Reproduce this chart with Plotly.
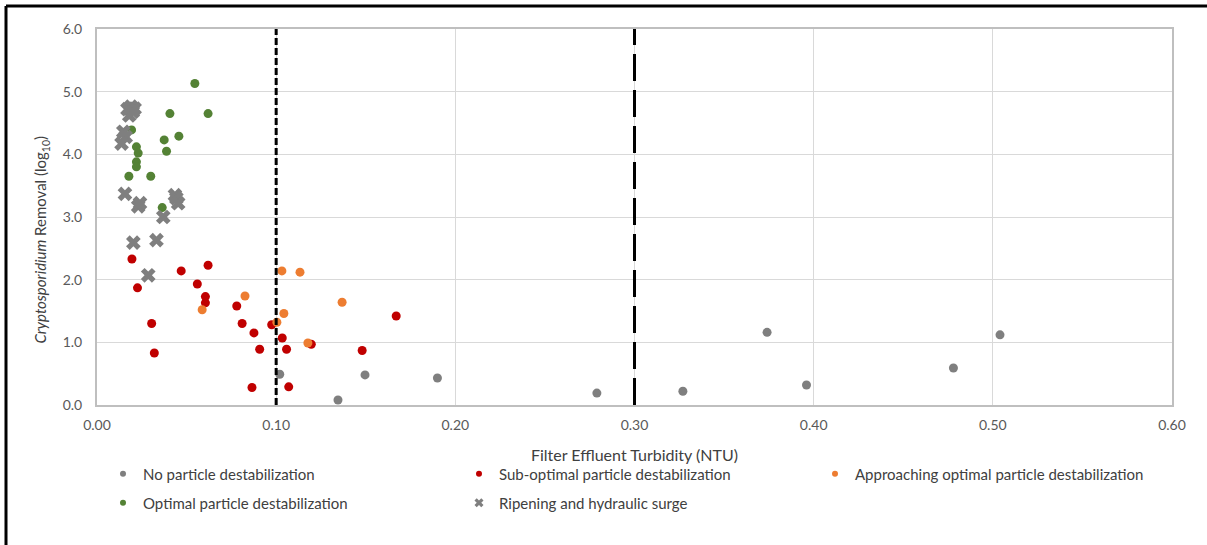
import plotly.graph_objects as go

# ---- data ----
none_x = [0.102, 0.1345, 0.1496, 0.190, 0.279, 0.327, 0.374, 0.396, 0.478, 0.504]
none_y = [0.49, 0.08, 0.48, 0.43, 0.19, 0.22, 1.16, 0.32, 0.59, 1.12]

sub_x = [0.0195, 0.0226, 0.047, 0.062, 0.056, 0.0605, 0.0605, 0.078, 0.0305, 0.081, 0.0876,
         0.0975, 0.1034, 0.032, 0.0908, 0.1058, 0.1196, 0.148, 0.0865, 0.107, 0.167]
sub_y = [2.33, 1.87, 2.14, 2.23, 1.93, 1.73, 1.63, 1.58, 1.30, 1.30, 1.15,
         1.28, 1.07, 0.83, 0.89, 0.89, 0.97, 0.87, 0.28, 0.29, 1.42]

appr_x = [0.1032, 0.1133, 0.0826, 0.0587, 0.1368, 0.1043, 0.1004, 0.1177]
appr_y = [2.14, 2.12, 1.74, 1.52, 1.64, 1.46, 1.32, 0.99]

opt_x = [0.0546, 0.0407, 0.062, 0.0193, 0.0457, 0.0375, 0.0388, 0.022, 0.023, 0.022, 0.022,
         0.0178, 0.030, 0.0364]
opt_y = [5.13, 4.65, 4.65, 4.39, 4.29, 4.23, 4.05, 4.12, 4.02, 3.88, 3.80,
         3.65, 3.65, 3.15]

rip_x = [0.017, 0.019, 0.021, 0.018, 0.020, 0.0147, 0.016, 0.0137, 0.0156, 0.0435, 0.023,
         0.024, 0.0443, 0.0453, 0.037, 0.0203, 0.0332, 0.0286]
rip_y = [4.72, 4.76, 4.73, 4.62, 4.68, 4.36, 4.28, 4.17, 3.37, 3.35, 3.17,
         3.22, 3.30, 3.22, 3.00, 2.59, 2.63, 2.07]

thresholds = [0.10, 0.30]

series_names = ["No particle destabilization", "Sub-optimal particle destabilization",
                "Approaching optimal particle destabilization", "Optimal particle destabilization",
                "Ripening and hydraulic surge"]

x_ticks = [0.0, 0.1, 0.2, 0.3, 0.4, 0.5, 0.6]
x_ticktext = ["0.00", "0.10", "0.20", "0.30", "0.40", "0.50", "0.60"]
y_ticks = [0, 1, 2, 3, 4, 5, 6]
y_ticktext = ["0.0", "1.0", "2.0", "3.0", "4.0", "5.0", "6.0"]

colors = ["#7f7f7f", "#c00000", "#ed7d31", "#548235", "#7f7f7f"]
FONT = "Lato"
TXT = "#404040"

L, R, T, B = 97, 35, 29, 140
W, H = 1207, 545
pw, ph = W - L - R, H - T - B
fx = lambda px: (px - L) / pw
fy = lambda py: (H - B - py) / ph

fig = go.Figure()
data = [(none_x, none_y), (sub_x, sub_y), (appr_x, appr_y), (opt_x, opt_y), (rip_x, rip_y)]
for i, (xs, ys) in enumerate(data):
    sym = "x" if i == 4 else "circle"
    size = 13 if i == 4 else 9
    fig.add_trace(go.Scatter(x=xs, y=ys, mode="markers", name=series_names[i], showlegend=False,
                             marker=dict(color=colors[i], size=size, symbol=sym, line=dict(width=0))))
# legend-only entries with small markers (row 1 -> legend, row 2 -> legend2)
for i in range(5):
    sym = "x" if i == 4 else "circle"
    fig.add_trace(go.Scatter(x=[None], y=[None], mode="markers", name=series_names[i],
                             legend="legend" if i < 3 else "legend2",
                             marker=dict(color=colors[i], size=8 if i == 4 else 6, symbol=sym)))

# threshold lines
fig.add_shape(type="line", xref="x", yref="paper", x0=thresholds[0], x1=thresholds[0], y0=0, y1=1,
              line=dict(color="black", width=3, dash="7px,3px"))
fig.add_shape(type="line", xref="x", yref="paper", x0=thresholds[1], x1=thresholds[1], y0=0, y1=1,
              line=dict(color="black", width=3, dash="27px,9px"))

# outer frame (left and top)
fig.add_shape(type="line", xref="paper", yref="paper", x0=fx(6), x1=fx(1207), y0=fy(6), y1=fy(6),
              line=dict(color="black", width=3))
fig.add_shape(type="line", xref="paper", yref="paper", x0=fx(6), x1=fx(6), y0=fy(6), y1=fy(545),
              line=dict(color="black", width=3))

# y-axis title
fig.add_annotation(xref="paper", yref="paper", x=fx(41), y=0.44, xanchor="center", yanchor="middle",
                   textangle=-90, showarrow=False,
                   text="<i>Cryptosporidium</i> Removal (log<sub>10</sub>)",
                   font=dict(size=15, color=TXT, family=FONT))

leg_common = dict(orientation="h", xanchor="left", yanchor="middle",
                  entrywidth=311, entrywidthmode="pixels", itemwidth=30,
                  font=dict(size=15, color=TXT, family=FONT), bgcolor="rgba(0,0,0,0)")

fig.update_layout(
    width=W, height=H,
    margin=dict(l=L, r=R, t=T, b=B),
    paper_bgcolor="white", plot_bgcolor="white",
    font=dict(family=FONT, color=TXT, size=13),
    xaxis=dict(range=[0, 0.6], tickvals=x_ticks, ticktext=x_ticktext, showgrid=True,
               gridcolor="#d9d9d9", gridwidth=1, zeroline=False, showline=True, linecolor="#bfbfbf",
               linewidth=2, mirror=True, ticks="", tickfont=dict(size=14, color="#595959"),
               ticklabelstandoff=6,
               title=dict(text="Filter Effluent Turbidity (NTU)", font=dict(size=16, color=TXT), standoff=18)),
    yaxis=dict(range=[0, 6], tickvals=y_ticks, ticktext=y_ticktext, showgrid=True,
               gridcolor="#d9d9d9", gridwidth=1, zeroline=False, showline=True, linecolor="#bfbfbf",
               linewidth=2, mirror=True, ticks="", tickfont=dict(size=14, color="#595959"),
               ticklabelstandoff=10),
    legend=dict(x=fx(103), y=fy(474), **leg_common),
    legend2=dict(x=fx(103), y=fy(503), **leg_common),
)

fig.write_html("out.html")
